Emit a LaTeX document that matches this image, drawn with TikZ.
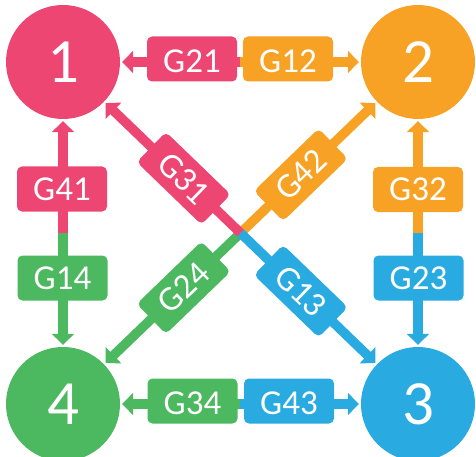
\documentclass[tikz,border=0pt]{standalone}
\usepackage{fontspec}
\setmainfont{Carlito}
\usetikzlibrary{arrows.meta,calc}
\definecolor{cpink}{HTML}{EE4673}
\definecolor{corange}{HTML}{F7A224}
\definecolor{cgreen}{HTML}{4CB85F}
\definecolor{cblue}{HTML}{29ABE2}
\begin{document}
\begin{tikzpicture}[x=1pt,y=-1pt,
  circ/.style={circle, fill=#1, minimum size=114pt, inner sep=0pt, text=white,
    font=\fontsize{63}{63}\selectfont},
  arr/.style={draw=#1, line width=9.5pt, line cap=butt,
    -{Triangle[width=22pt,length=11pt]}, shorten >=2pt},
  lbl/.style={fill=#1, rounded corners=5pt, minimum width=90pt, inner sep=0pt,
    text=white, font=\fontsize{35}{35}\selectfont,
    text height=33.8pt, text depth=11.2pt},
  hlbl/.style={lbl=#1, text height=36.3pt, text depth=8.7pt},
  dlbl/.style={lbl=#1, text height=32.3pt, text depth=9.7pt}]
\useasboundingbox (0,0) rectangle (476,457);
% nodes
\node[circ=cpink]   (n1) at (63,62)  {1};
\node[circ=corange] (n2) at (418,62) {2};
\node[circ=cblue]   (n3) at (418,404) {3};
\node[circ=cgreen]  (n4) at (63,404) {4};
% midpoints
\coordinate (mt) at (240,62);
\coordinate (mb) at (240,404);
\coordinate (ml) at (63,233);
\coordinate (mr) at (418,233);
\coordinate (mc) at ($(n1)!0.5!(n3)$);
% connectors
\draw[arr=cpink]   (mt) -- (n1);
\draw[arr=corange] (mt) -- (n2);
\draw[arr=cgreen]  (mb) -- (n4);
\draw[arr=cblue]   (mb) -- (n3);
\draw[arr=cpink]   (ml) -- (n1);
\draw[arr=cgreen]  (ml) -- (n4);
\draw[arr=corange] (mr) -- (n2);
\draw[arr=cblue]   (mr) -- (n3);
\draw[arr=cgreen]  (mc) -- (n4);
\draw[arr=corange] (mc) -- (n2);
\draw[arr=cblue]   (mc) -- (n3);
\draw[arr=cpink]   (mc) -- (n1);
% labels
\node[hlbl=cpink]   (g21) at (192,59) {G21};
\node[hlbl=corange] (g12) at (288,59) {G12};
\node[hlbl=cgreen]  (g34) at (192.5,401) {G34};
\node[hlbl=cblue]   (g43) at (289,401) {G43};
\node[lbl=cpink]    (g41) at (62,189) {G41};
\node[lbl=cgreen]   (g14) at (62.5,278) {G14};
\node[lbl=corange]  (g32) at (418,189.5) {G32};
\node[lbl=cblue]    (g23) at (418.5,278) {G23};
\node[dlbl=cpink, minimum height=42pt, rotate=-44]   (g31) at ($(n1)!0.34!(n3)$) {G31};
\node[dlbl=cblue, minimum height=42pt, rotate=-44]   (g13) at ($(n1)!0.67!(n3)$) {G13};
\node[dlbl=cgreen, minimum height=42pt, rotate=44]   (g24) at ($(n4)!0.34!(n2)$) {G24};
\node[dlbl=corange, minimum height=42pt, rotate=44]  (g42) at ($(n4)!0.67!(n2)$) {G42};
\end{tikzpicture}
\end{document}
